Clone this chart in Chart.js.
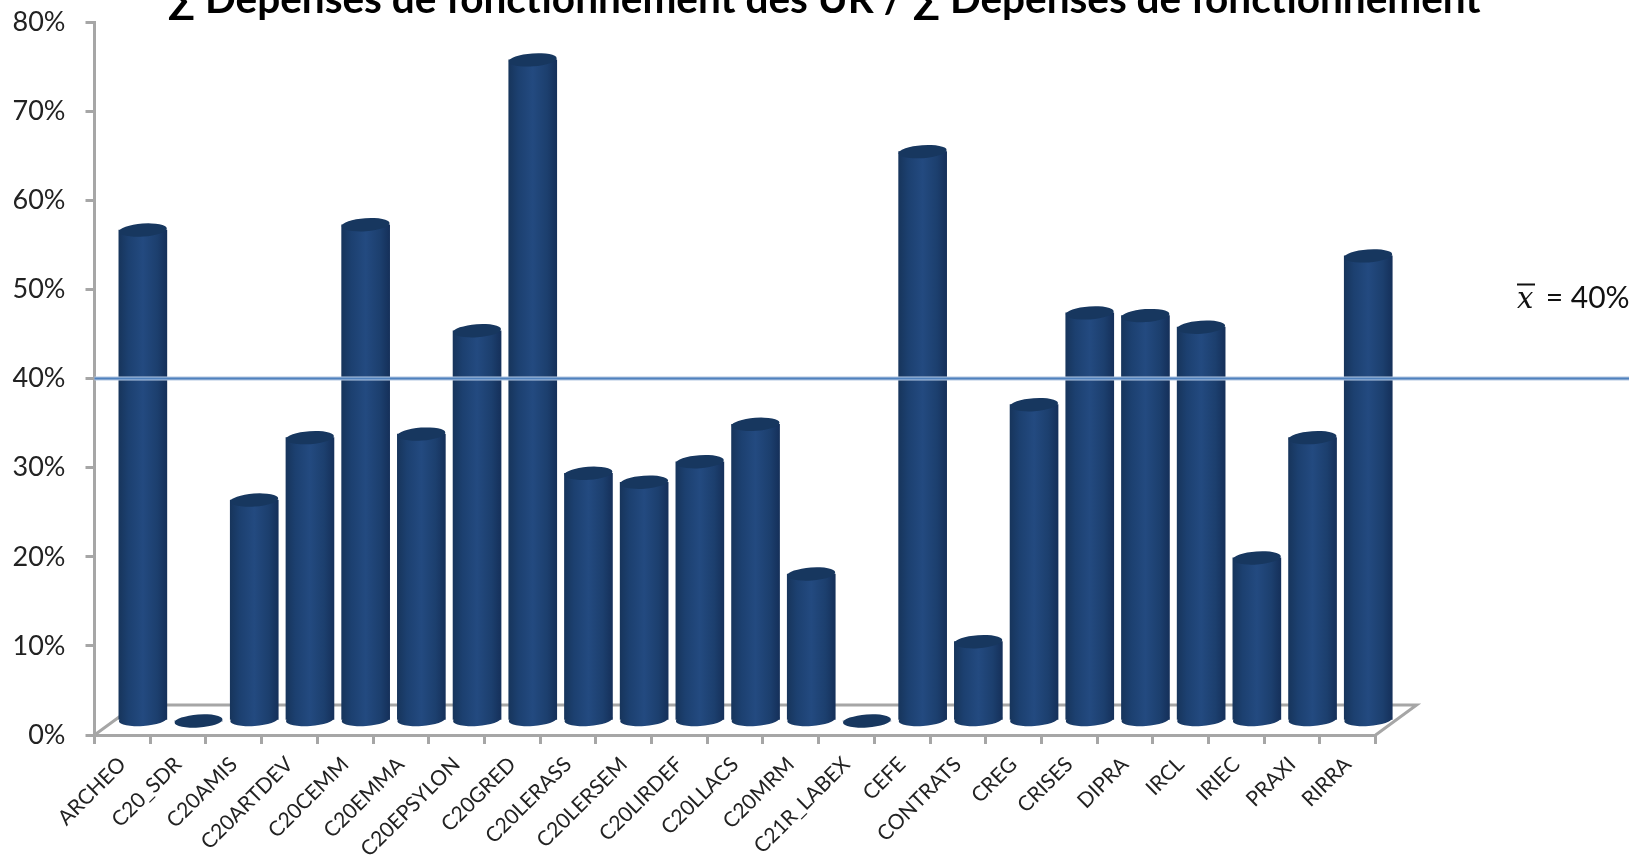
<!DOCTYPE html>
<html>
<head>
<meta charset="utf-8">
<title>Dépenses de fonctionnement</title>
<script src="https://cdn.jsdelivr.net/npm/chart.js@4"></script>
<style>
  html, body { margin: 0; padding: 0; background: #fff; overflow: hidden; }
  #wrap { position: absolute; left: 0; top: -30px; width: 1629px; height: 885px; }
</style>
</head>
<body>
<div id="wrap"><canvas id="chart" width="1629" height="885"></canvas></div>
<script>
// data
const categories = ["ARCHEO", "C20_SDR", "C20AMIS", "C20ARTDEV", "C20CEMM", "C20EMMA", "C20EPSYLON", "C20GRED",
  "C20LERASS", "C20LERSEM", "C20LIRDEF", "C20LLACS", "C20MRM", "C21R_LABEX", "CEFE", "CONTRATS", "CREG",
  "CRISES", "DIPRA", "IRCL", "IRIEC", "PRAXI", "RIRRA"];
const shares = [55.1, 0, 24.8, 31.8, 55.7, 32.2, 43.8, 74.2, 27.8, 26.8, 29.1, 33.3, 16.5, 0, 63.9, 8.9, 35.5,
  45.8, 45.5, 44.2, 18.3, 31.8, 52.2];
const meanShare = 40;
const titleText = "∑ Dépenses de fonctionnement des UR / ∑ Dépenses de fonctionnement";

// fake 3d settings
const depthX = 41, depthY = 30;
const barW = 48, capH = 6.5, capTilt = -0.07;
const greyLine = "#a6a6a6";

function barGradient(ctx, x) {
  // the scale has no pixels yet on the first option pass
  if (!Number.isFinite(x)) return "#234a80";
  const g = ctx.createLinearGradient(x - barW / 2, 0, x + barW / 2, 0);
  g.addColorStop(0, "#17355c");
  g.addColorStop(0.2, "#1c4070");
  g.addColorStop(0.5, "#234a80");
  g.addColorStop(0.8, "#1c3f6e");
  g.addColorStop(1, "#15305a");
  return g;
}

const cylinders = {
  id: "cylinders",
  beforeDatasetsDraw(chart) {
    // floor of the 3d box
    const { ctx, chartArea: a } = chart;
    ctx.save();
    ctx.strokeStyle = greyLine;
    ctx.lineWidth = 3;
    ctx.beginPath();
    ctx.moveTo(a.left, a.bottom);
    ctx.lineTo(a.left + depthX, a.bottom - depthY);
    ctx.lineTo(a.right + depthX, a.bottom - depthY);
    ctx.lineTo(a.right, a.bottom);
    ctx.stroke();
    ctx.restore();
  },
  beforeDatasetDraw(chart) {
    chart.ctx.save();
    chart.ctx.translate(depthX / 2, -depthY / 2 + 1);
  },
  afterDatasetDraw(chart, args) {
    const ctx = chart.ctx;
    args.meta.data.forEach((bar, i) => {
      // rounded bottom, then the dark top
      ctx.fillStyle = barGradient(ctx, bar.x);
      if (shares[i] > 0) {
        ctx.beginPath();
        ctx.ellipse(bar.x, bar.base, barW / 2, capH, capTilt, 0, Math.PI * 2);
        ctx.fill();
      }
      ctx.fillStyle = "#17375f";
      ctx.beginPath();
      ctx.ellipse(bar.x, bar.y, barW / 2, capH, capTilt, 0, Math.PI * 2);
      ctx.fill();
    });
    ctx.restore();
  },
  afterDatasetsDraw(chart) {
    // mean line runs off to the page edge, with its label
    const { ctx, chartArea: a, scales } = chart;
    const y = scales.y.getPixelForValue(meanShare);
    ctx.save();
    ctx.beginPath();
    ctx.moveTo(a.left, y);
    ctx.lineTo(chart.width, y);
    ctx.strokeStyle = "#b4c7e2";
    ctx.lineWidth = 4;
    ctx.stroke();
    ctx.strokeStyle = "#4f81bd";
    ctx.lineWidth = 2;
    ctx.stroke();

    const ly = scales.y.getPixelForValue(50) + 18;
    ctx.fillStyle = "#111";
    ctx.textBaseline = "alphabetic";
    ctx.font = "italic 29px 'DejaVu Serif', serif";
    ctx.fillText("x", 1517, ly);
    ctx.font = "30px Lato";
    ctx.fillText(" = " + meanShare + "%", 1538, ly);
    ctx.fillRect(1517, ly - 24, 18, 2);
    ctx.restore();
  },
};

new Chart(document.getElementById("chart"), {
  type: "bar",
  data: {
    labels: categories,
    datasets: [{
      data: shares,
      barThickness: barW,
      borderWidth: 0,
      clip: false,
      backgroundColor: (c) => barGradient(c.chart.ctx, c.chart.scales.x.getPixelForValue(c.dataIndex)),
    }],
  },
  plugins: [cylinders],
  options: {
    responsive: false,
    animation: false,
    // negative right padding moves the centred title to where it sits in the original
    layout: { padding: { left: 0, right: -19, top: 0 } },
    plugins: {
      legend: { display: false },
      tooltip: { enabled: false },
      title: {
        display: true,
        text: titleText,
        color: "#000",
        font: { family: "Lato", size: 40.5, weight: "bold", lineHeight: 1 },
        padding: { top: 9.2, bottom: 2.5 },
      },
    },
    scales: {
      x: {
        grid: { drawOnChartArea: false, color: greyLine, lineWidth: 3, tickLength: 9 },
        border: { color: greyLine, width: 3 },
        afterFit(s) { s.height = 120; },
        ticks: {
          autoSkip: false,
          minRotation: 45,
          maxRotation: 45,
          padding: 8,
          color: "#222",
          font: { family: "Lato", size: 21 },
        },
      },
      y: {
        min: 0,
        max: 80,
        grid: { drawOnChartArea: false, color: greyLine, lineWidth: 3, tickLength: 9 },
        border: { color: greyLine, width: 3 },
        afterFit(s) { s.width = 94.5; },
        ticks: {
          stepSize: 10,
          padding: 20,
          color: "#222",
          font: { family: "Lato", size: 27 },
          callback: (v) => v + "%",
        },
      },
      // empty axis, only reserves the room on the right for the mean label
      spacer: {
        type: "linear",
        position: "right",
        grid: { display: false },
        border: { display: false },
        ticks: { display: false },
        afterFit(s) { s.width = 272.4; },
      },
    },
  },
});
</script>
</body>
</html>
